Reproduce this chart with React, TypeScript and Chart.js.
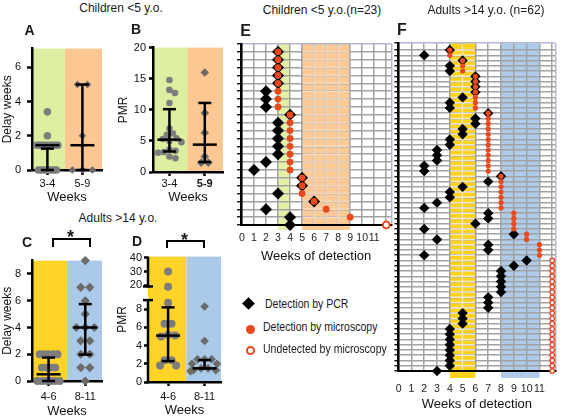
import React, { useEffect, useRef } from "react";
import { Chart, registerables } from "chart.js";

Chart.register(...registerables);

const FONT = "'Liberation Sans', Arial, Helvetica, sans-serif";
Chart.defaults.font.family = FONT;
Chart.defaults.color = "#111";

// ---------------- Data: panels A–D ----------------
const CHILD_GROUPS = ["3-4", "5-9"];
const ADULT_GROUPS = ["4-6", "8-11"];

const A_DELAY_34 = [3.4, 2.0, 1.45, 1.45, 1.45, 1.45, 1.45, 1.45, 1.45, 1.45, 0, 0, 0, 0, 0, 0, 0];
const A_DELAY_59 = [5, 5, 2, 0, 0, 0];
const A_MEDIAN = [1.45, 1.45];
const A_LOW = [0, 0];
const A_HIGH = [1.25, 5];
const A_YTICKS = [0, 2, 4, 6];

const B_PMR_34 = [14.8, 13.2, 12.7, 11.1, 7.0, 6.2, 6.0, 5.4, 5.3, 5.0, 4.8, 3.6, 3.4, 3.2, 3.1, 2.5, 2.2];
const B_PMR_59 = [16, 9.5, 6.3, 2.5, 1.5, 1.5];
const B_CENTER = [5.2, 4.4];
const B_LOW = [3.3, 1.6];
const B_HIGH = [10.1, 11.1];
const B_YTICKS = [0, 5, 10, 15, 20];

const C_DELAY_46 = [2, 2, 2, 2, 2, 1, 1, 1, 1, 0, 0, 0, 0, 0, 0];
const C_DELAY_811 = [9, 7, 7, 6, 5, 4, 4, 4, 3, 3, 2, 2, 1, 1, 0];
const C_MEDIAN = [0.5, 4];
const C_LOW = [0, 1.97];
const C_HIGH = [1.75, 5.75];
const C_YTICKS = [0, 2, 4, 6, 8];

const D_PMR_46 = [30, 19, 8.7, 6.4, 6.4, 5.2, 5.1, 5.0, 2.4, 2.4, 1.8, 1.8];
const D_PMR_811 = [8.3, 4.5, 2.5, 2.5, 2.5, 2.0, 2.0, 1.5, 1.5, 1.3, 1.3, 1.2];
const D_CENTER = [5.1, 1.5];
const D_LOW = [2.3, 1.5];
const D_HIGH = [8.2, 2.4];
const D_YTICKS = [0, 2, 4, 6, 8, 20, 30, 40];

// broken PMR axis of panel D (lower part linear up to 9, upper part compressed from 20)
const D_LOWER_TOP = 9.0;
const D_UPPER_BASE_VALUE = 20;
const D_UPPER_BASE_POS = 10.61;
const D_UPPER_SCALE = 0.153;
const D_AXIS_TOP = 13.78;
const dDisplay = (v: number) => (v <= 9.5 ? v : D_UPPER_BASE_POS + (v - D_UPPER_BASE_VALUE) * D_UPPER_SCALE);

// ---------------- Data: panels E, F ----------------
const WEEK_LABELS = ["0", "1", "2", "3", "4", "5", "6", "7", "8", "9", "10", "11", ""];
const UNDETECTED_WEEK = 12;
const E_GROUP_WEEKS = [[3, 4], [5, 9]];
const F_GROUP_WEEKS = [[4, 6], [8, 11]];

const E_PCR_WEEK = [3, 3, 3, 3, 3, 2, 2, 2, 4, 3, 3, 3, 3, 3, 2, 1, 5, 5, 3, 6, 2, 4, 4];
const E_MICRO_WEEK: (number | null)[] = [3, 3, 3, 3, 3, 3, 3, 3, 4, 4, 4, 4, 4, 4, 4, 4, 5, 5, 5, 6, 7, 9, null];

const F_PCR_WEEK = [
  4, 2, 5, 4, 4, 6, 6, 6, 6, 5, 4, 4,
  7, 6, 6, 5, 5, 4, 4, 3, 3, 3, 2, 2,
  8, 7, 5, 4, 4, 3, 2,
  7, 7, 6, 2,
  9, 3, 7, 7, 2,
  10, 9, 8, 8, 8, 8, 8, 7, 7, 7, 5, 5, 5,
  4, 4, 4, 4, 4, 4, 4, 4, 3,
];
const F_MICRO_WEEK: (number | null)[] = [
  4, 4, 5, 5, 5, 6, 6, 6, 6, 6, 6, 6,
  7, 7, 7, 7, 7, 7, 7, 7, 7, 7, 7, 7,
  8, 8, 8, 8, 8, 8, 8,
  9, 9, 9, 9,
  10, 10, 11, 11, 11,
  null, null, null, null, null, null, null, null, null, null, null, null, null,
  null, null, null, null, null, null, null, null, null,
];

const LEGEND_LABELS = ["Detection by PCR", "Detection by microscopy", "Undetected by microscopy"];

// ---------------- Colours ----------------
const RED = "#e84a1d";
const GRID = "#a2a2a2";
const FRAME = "#b3b7d6";
const DOT_GREY = "#7d7d7d";
const DIA_GREY = "#6a6a6a";

// ---------------- Helpers ----------------
function swarm(vals: number[], center: number, xPx: number, yPx: number, minDist: number, toDisp: (v: number) => number) {
  const step = 0.5;
  const idx = vals.map((_, i) => i).sort((a, b) => vals[b] - vals[a]);
  const placed: { ox: number; py: number; v: number; i: number }[] = [];
  for (const i of idx) {
    const py = toDisp(vals[i]) * yPx;
    let ox = 0;
    for (let k = 0; k < 600; k++) {
      const cand = k === 0 ? 0 : (k % 2 ? 1 : -1) * Math.ceil(k / 2) * step;
      if (placed.every((p) => Math.hypot(p.ox - cand, p.py - py) >= minDist)) {
        ox = cand;
        break;
      }
    }
    placed.push({ ox, py, v: vals[i], i });
  }
  const byVal = new Map<number, typeof placed>();
  placed.forEach((p) => {
    const arr = byVal.get(p.v) || [];
    arr.push(p);
    byVal.set(p.v, arr);
  });
  byVal.forEach((arr) => {
    if (arr.length > 1) {
      const m = arr.reduce((s, p) => s + p.ox, 0) / arr.length;
      arr.forEach((p) => (p.ox -= m));
    }
  });
  const out: { x: number; y: number }[] = new Array(vals.length);
  placed.forEach((p) => {
    out[p.i] = { x: center + p.ox / xPx, y: toDisp(p.v) };
  });
  return out;
}

function seg(ctx: CanvasRenderingContext2D, x0: number, y0: number, x1: number, y1: number) {
  ctx.beginPath();
  ctx.moveTo(x0, y0);
  ctx.lineTo(x1, y1);
  ctx.stroke();
}

const bandsPlugin = {
  id: "bands",
  beforeDraw(chart: any, _a: any, o: any) {
    const { ctx, chartArea: a, scales } = chart;
    const x = scales.x;
    ctx.save();
    for (const b of o.list || []) {
      const x0 = x.getPixelForValue(b.from);
      const x1 = x.getPixelForValue(b.to);
      ctx.fillStyle = b.color;
      ctx.fillRect(x0, a.top, x1 - x0, a.bottom - a.top + (o.extend || 0));
    }
    ctx.restore();
  },
  beforeDatasetsDraw(chart: any, _a: any, o: any) {
    const { ctx, chartArea: a, scales } = chart;
    const x = scales.x;
    const y = scales.y;
    ctx.save();
    for (const b of o.list || []) {
      if (!b.lineColor) continue;
      const x0 = x.getPixelForValue(b.from);
      const x1 = x.getPixelForValue(b.to);
      ctx.strokeStyle = b.lineColor;
      ctx.lineWidth = 1.5;
      ctx.beginPath();
      for (const t of y.ticks) {
        const py = y.getPixelForValue(t.value);
        if (py > a.top + 1 && py < a.bottom - 1) {
          ctx.moveTo(x0 + 0.8, py);
          ctx.lineTo(x1 - 0.8, py);
        }
      }
      for (const t of x.ticks) {
        if (t.value > b.from + 1e-6 && t.value < b.to - 1e-6) {
          const px = x.getPixelForValue(t.value);
          ctx.moveTo(px, a.top + 1);
          ctx.lineTo(px, a.bottom - 1);
        }
      }
      ctx.stroke();
    }
    ctx.restore();
  },
};

const summaryPlugin = {
  id: "summary",
  afterDatasetsDraw(chart: any, _a: any, o: any) {
    if (!o.center) return;
    const { ctx, scales } = chart;
    const x = scales.x;
    const y = scales.y;
    const t = o.toDisplay || ((v: number) => v);
    ctx.save();
    ctx.strokeStyle = "#000";
    ctx.lineWidth = 2.5;
    o.center.forEach((c: number, i: number) => {
      const px = x.getPixelForValue(i);
      const pm = y.getPixelForValue(t(c));
      const pl = y.getPixelForValue(t(o.low[i]));
      const ph = y.getPixelForValue(t(o.high[i]));
      seg(ctx, px - o.halfWide, pm, px + o.halfWide, pm);
      seg(ctx, px, pl, px, ph);
      seg(ctx, px - o.halfCap, pl, px + o.halfCap, pl);
      seg(ctx, px - o.halfCap, ph, px + o.halfCap, ph);
    });
    ctx.restore();
  },
};

const brokenAxisPlugin = {
  id: "brokenAxis",
  afterDraw(chart: any, _a: any, o: any) {
    if (!o.segments) return;
    const { ctx, chartArea: a, scales } = chart;
    const y = scales.y;
    ctx.save();
    ctx.strokeStyle = "#000";
    ctx.lineWidth = 2.5;
    for (const [lo, hi] of o.segments) {
      seg(ctx, a.left, y.getPixelForValue(lo) + 1.2, a.left, y.getPixelForValue(hi));
    }
    for (const v of o.caps) {
      const py = y.getPixelForValue(v);
      seg(ctx, a.left - 5, py, a.left + 5, py);
    }
    ctx.restore();
  },
};

type Box = { left: number; top: number; width: number; height: number };
type Group = { values: number[]; shape: "circle" | "rectRot"; radius: number; color: string; spread: number };
type SummarySpec = {
  box: Box;
  yAxisWidth: number;
  xAxisHeight: number;
  padTop: number;
  padRight: number;
  xMin: number;
  xMax: number;
  yMax: number;
  yTicks: number[];
  toDisplay: (v: number) => number;
  categories: string[];
  boldIndex: number;
  groups: Group[];
  center: number[];
  low: number[];
  high: number[];
  bandColors: string[];
  yTitle: string;
  yTitlePad: number;
  yTickPad: number;
  yTickLen: number;
  xTickLen: number;
  xTickPad: number;
  xTitlePad: number;
  broken?: { segments: number[][]; caps: number[] };
};

const identity = (v: number) => v;

function summaryConfig(s: SummarySpec): any {
  const plotW = s.box.width - s.yAxisWidth - s.padRight;
  const plotH = s.box.height - s.padTop - s.xAxisHeight;
  const xPx = plotW / (s.xMax - s.xMin);
  const yPx = plotH / s.yMax;
  return {
    type: "scatter",
    data: {
      datasets: s.groups.map((g, i) => ({
        data: swarm(g.values, i, xPx, yPx, g.spread, s.toDisplay),
        pointStyle: g.shape,
        pointRadius: g.radius,
        pointHoverRadius: g.radius,
        backgroundColor: g.color,
        borderColor: g.color,
        pointBorderWidth: 0,
        clip: false,
      })),
    },
    options: {
      responsive: false,
      animation: false,
      events: [],
      layout: { padding: { left: 0, top: s.padTop, right: s.padRight, bottom: 0 } },
      plugins: {
        legend: { display: false },
        tooltip: { enabled: false },
        bands: {
          list: [
            { from: s.xMin, to: 0.5, color: s.bandColors[0] },
            { from: 0.5, to: s.xMax, color: s.bandColors[1] },
          ],
          extend: 0,
        },
        summary: { center: s.center, low: s.low, high: s.high, toDisplay: s.toDisplay, halfWide: 12, halfCap: 6.5 },
        brokenAxis: s.broken ? s.broken : {},
      },
      scales: {
        x: {
          type: "linear",
          min: s.xMin,
          max: s.xMax,
          afterBuildTicks: (sc: any) => {
            sc.ticks = s.categories.map((_, i) => ({ value: i }));
          },
          afterFit: (sc: any) => {
            sc.height = s.xAxisHeight;
          },
          ticks: {
            autoSkip: false,
            maxRotation: 0,
            minRotation: 0,
            padding: s.xTickPad,
            color: "#111",
            font: (c: any) => ({ size: 11, family: FONT, weight: c.index === s.boldIndex ? "bold" : "normal" }),
            callback: (_v: any, i: number) => s.categories[i],
          },
          grid: {
            display: true,
            drawOnChartArea: false,
            drawTicks: true,
            tickLength: s.xTickLen,
            tickColor: "#000",
            tickWidth: 2.5,
          },
          border: { display: true, color: "#000", width: 2.5 },
          title: {
            display: true,
            text: "Weeks",
            color: "#111",
            font: { size: 13, family: FONT },
            padding: { top: 0, bottom: s.xTitlePad },
          },
        },
        y: {
          type: "linear",
          min: 0,
          max: s.yMax,
          afterBuildTicks: (sc: any) => {
            sc.ticks = s.yTicks.map((v) => ({ value: s.toDisplay(v) }));
          },
          afterFit: (sc: any) => {
            sc.width = s.yAxisWidth;
          },
          ticks: {
            padding: s.yTickPad,
            color: "#111",
            font: { size: 11, family: FONT },
            callback: (_v: any, i: number) => String(s.yTicks[i]),
          },
          grid: {
            display: true,
            drawOnChartArea: false,
            drawTicks: true,
            tickLength: s.yTickLen,
            tickColor: "#000",
            tickWidth: 2.5,
          },
          border: { display: !s.broken, color: "#000", width: 2.5 },
          title: {
            display: true,
            text: s.yTitle,
            color: "#111",
            font: { size: 12, family: FONT },
            padding: { top: s.yTitlePad, bottom: 0 },
          },
        },
      },
    },
    plugins: [bandsPlugin, summaryPlugin, brokenAxisPlugin],
  };
}

type DetectionSpec = {
  box: Box;
  yAxisWidth: number;
  xAxisHeight: number;
  padTop: number;
  padRight: number;
  xMin: number;
  xMax: number;
  yMax: number;
  pcr: number[];
  micro: (number | null)[];
  bands: { from: number; to: number; color: string; lineColor?: string }[];
  bandExtend: number;
  diamondR: number;
  redR: number;
  openR: number;
  openW: number;
  xTickPad: number;
  xTitlePad: number;
  tickFont: number;
};

function detectionConfig(s: DetectionSpec): any {
  const n = s.pcr.length;
  const rowY = (k: number) => n - 1 - k;
  const pcrPts = s.pcr.map((w, k) => ({ x: w, y: rowY(k) }));
  const redPts = s.micro.flatMap((w, k) => (w === null ? [] : [{ x: w, y: rowY(k) }]));
  const openPts = s.micro.flatMap((w, k) => (w === null ? [{ x: UNDETECTED_WEEK, y: rowY(k) }] : []));
  const yTicks: number[] = [];
  for (let v = 0; v < n; v++) yTicks.push(v);
  yTicks.push(s.yMax);
  const xTicks = WEEK_LABELS.map((_, i) => i).concat([s.xMax]);
  return {
    type: "scatter",
    data: {
      datasets: [
        {
          data: redPts,
          pointStyle: "circle",
          pointRadius: s.redR,
          pointHoverRadius: s.redR,
          backgroundColor: RED,
          borderColor: RED,
          pointBorderWidth: 0,
          clip: false,
        },
        {
          data: openPts,
          pointStyle: "circle",
          pointRadius: s.openR,
          pointHoverRadius: s.openR,
          backgroundColor: "#ffffff",
          borderColor: RED,
          pointBorderWidth: s.openW,
          clip: false,
        },
        {
          data: pcrPts,
          pointStyle: "rectRot",
          pointRadius: s.diamondR,
          pointHoverRadius: s.diamondR,
          backgroundColor: "#000",
          borderColor: "#000",
          pointBorderWidth: 0,
          clip: false,
        },
      ],
    },
    options: {
      responsive: false,
      animation: false,
      events: [],
      layout: { padding: { left: 0, top: s.padTop, right: s.padRight, bottom: 0 } },
      plugins: {
        legend: { display: false },
        tooltip: { enabled: false },
        bands: { list: s.bands, extend: s.bandExtend },
        summary: {},
        brokenAxis: {},
      },
      scales: {
        x: {
          type: "linear",
          min: s.xMin,
          max: s.xMax,
          afterBuildTicks: (sc: any) => {
            sc.ticks = xTicks.map((v) => ({ value: v }));
          },
          afterFit: (sc: any) => {
            sc.height = s.xAxisHeight;
          },
          ticks: {
            autoSkip: false,
            maxRotation: 0,
            minRotation: 0,
            padding: s.xTickPad,
            color: "#222",
            font: { size: s.tickFont, family: FONT },
            callback: (_v: any, i: number) => (i < WEEK_LABELS.length ? WEEK_LABELS[i] : ""),
          },
          grid: {
            display: true,
            drawOnChartArea: true,
            drawTicks: false,
            color: (c: any) => (c.tick && c.tick.value > 12.05 ? FRAME : GRID),
            lineWidth: 1.5,
          },
          border: { display: true, color: "#000", width: 2 },
          title: {
            display: true,
            text: "Weeks of detection",
            color: "#111",
            font: { size: 13, family: FONT },
            padding: { top: 0, bottom: s.xTitlePad },
          },
        },
        y: {
          type: "linear",
          min: 0,
          max: s.yMax,
          afterBuildTicks: (sc: any) => {
            sc.ticks = yTicks.map((v) => ({ value: v }));
          },
          afterFit: (sc: any) => {
            sc.width = s.yAxisWidth;
          },
          ticks: { display: false },
          grid: {
            display: true,
            drawOnChartArea: true,
            drawTicks: true,
            tickLength: 4,
            tickColor: "#000",
            tickWidth: 1.3,
            color: (c: any) => (c.tick && c.tick.value > s.yMax - 0.5 ? FRAME : GRID),
            lineWidth: 1.5,
          },
          border: { display: true, color: "#000", width: 2.5 },
        },
      },
    },
    plugins: [bandsPlugin],
  };
}

// ---------------- Panel specs ----------------
const PANEL_A: SummarySpec = {
  box: { left: 0, top: 36, width: 108, height: 170 },
  yAxisWidth: 32, xAxisHeight: 36, padTop: 6, padRight: 6,
  xMin: -0.44, xMax: 1.56, yMax: 7.1, yTicks: A_YTICKS, toDisplay: identity,
  categories: CHILD_GROUPS, boldIndex: -1,
  groups: [
    { values: A_DELAY_34, shape: "circle", radius: 3.8, color: DOT_GREY, spread: 2.8 },
    { values: A_DELAY_59, shape: "rectRot", radius: 3.8, color: DIA_GREY, spread: 10 },
  ],
  center: A_MEDIAN, low: A_LOW, high: A_HIGH,
  bandColors: ["#dcee9f", "#fcc792"],
  yTitle: "Delay weeks", yTitlePad: 0.6, yTickPad: 6, yTickLen: 5,
  xTickLen: 5, xTickPad: 2.4, xTitlePad: 0.7,
};

const PANEL_B: SummarySpec = {
  box: { left: 116, top: 38, width: 112, height: 168 },
  yAxisWidth: 37, xAxisHeight: 34, padTop: 5, padRight: 5,
  xMin: -0.465, xMax: 1.515, yMax: 20, yTicks: B_YTICKS, toDisplay: identity,
  categories: CHILD_GROUPS, boldIndex: 1,
  groups: [
    { values: B_PMR_34, shape: "circle", radius: 3.3, color: DOT_GREY, spread: 6 },
    { values: B_PMR_59, shape: "rectRot", radius: 4.3, color: DIA_GREY, spread: 7 },
  ],
  center: B_CENTER, low: B_LOW, high: B_HIGH,
  bandColors: ["#dcee9f", "#fcc792"],
  yTitle: "PMR", yTitlePad: 0.3, yTickPad: 3, yTickLen: 4,
  xTickLen: 4, xTickPad: 1.4, xTitlePad: 0.7,
};

const PANEL_C: SummarySpec = {
  box: { left: 0, top: 248, width: 108, height: 171 },
  yAxisWidth: 32, xAxisHeight: 38, padTop: 5, padRight: 6,
  xMin: -0.452, xMax: 1.456, yMax: 9, yTicks: C_YTICKS, toDisplay: identity,
  categories: ADULT_GROUPS, boldIndex: -1,
  groups: [
    { values: C_DELAY_46, shape: "circle", radius: 3.9, color: DOT_GREY, spread: 4.2 },
    { values: C_DELAY_811, shape: "rectRot", radius: 4.6, color: DIA_GREY, spread: 9 },
  ],
  center: C_MEDIAN, low: C_LOW, high: C_HIGH,
  bandColors: ["#ffd328", "#abc9e8"],
  yTitle: "Delay weeks", yTitlePad: 0.6, yTickPad: 6, yTickLen: 5,
  xTickLen: 5, xTickPad: 4.1, xTitlePad: 0.2,
};

const PANEL_D: SummarySpec = {
  box: { left: 112, top: 248, width: 114, height: 171 },
  yAxisWidth: 36, xAxisHeight: 37, padTop: 6, padRight: 5,
  xMin: -0.55, xMax: 1.45, yMax: D_AXIS_TOP, yTicks: D_YTICKS, toDisplay: dDisplay,
  categories: ADULT_GROUPS, boldIndex: -1,
  groups: [
    { values: D_PMR_46, shape: "circle", radius: 4, color: DOT_GREY, spread: 7 },
    { values: D_PMR_811, shape: "rectRot", radius: 4.3, color: DIA_GREY, spread: 7 },
  ],
  center: D_CENTER, low: D_LOW, high: D_HIGH,
  bandColors: ["#ffd328", "#abc9e8"],
  yTitle: "PMR", yTitlePad: 3.8, yTickPad: 2, yTickLen: 4,
  xTickLen: 4, xTickPad: 4.1, xTitlePad: 0.5,
  broken: { segments: [[0, D_LOWER_TOP], [10.5, D_AXIS_TOP]], caps: [D_LOWER_TOP, 10.5] },
};

const PANEL_E: DetectionSpec = {
  box: { left: 228, top: 38, width: 170, height: 228 },
  yAxisWidth: 13, xAxisHeight: 41, padTop: 4, padRight: 6,
  xMin: -0.08, xMax: 12.42, yMax: 23,
  pcr: E_PCR_WEEK, micro: E_MICRO_WEEK,
  bands: [
    { from: E_GROUP_WEEKS[0][0], to: E_GROUP_WEEKS[0][1], color: "#e3f0a6" },
    { from: E_GROUP_WEEKS[1][0], to: E_GROUP_WEEKS[1][1], color: "#fdc995", lineColor: "rgba(253,226,200,0.85)" },
  ],
  bandExtend: 5,
  diamondR: 6, redR: 3.4, openR: 3.4, openW: 2,
  xTickPad: 6.7, xTitlePad: 1.5, tickFont: 10.5,
};

const PANEL_F: DetectionSpec = {
  box: { left: 384, top: 38, width: 183, height: 378 },
  yAxisWidth: 13, xAxisHeight: 45, padTop: 4, padRight: 2,
  xMin: -0.02, xMax: 12.24, yMax: 62.3,
  pcr: F_PCR_WEEK, micro: F_MICRO_WEEK,
  bands: [
    { from: F_GROUP_WEEKS[0][0], to: F_GROUP_WEEKS[0][1], color: "#ffd21c", lineColor: "rgba(246,240,214,0.9)" },
    { from: F_GROUP_WEEKS[1][0], to: F_GROUP_WEEKS[1][1], color: "#aecbea" },
  ],
  bandExtend: 7,
  diamondR: 5.2, redR: 2.6, openR: 2.3, openW: 1.4,
  xTickPad: 11.7, xTitlePad: 4.2, tickFont: 10.5,
};

// ---------------- Components ----------------
function ChartBox({ box, make }: { box: Box; make: () => any }) {
  const ref = useRef<HTMLCanvasElement>(null);
  useEffect(() => {
    const chart = new Chart(ref.current as HTMLCanvasElement, make());
    return () => chart.destroy();
  }, []);
  return (
    <div style={{ position: "absolute", left: box.left, top: box.top, width: box.width, height: box.height }}>
      <canvas ref={ref} width={box.width} height={box.height} style={{ width: box.width, height: box.height, display: "block" }} />
    </div>
  );
}

function Txt(props: {
  x: number;
  y: number;
  size?: number;
  bold?: boolean;
  start?: boolean;
  squeeze?: number;
  children: React.ReactNode;
}) {
  const { x, y, size = 12, bold = false, start = false, squeeze = 1, children } = props;
  return (
    <div
      style={{
        position: "absolute",
        left: x,
        top: y,
        transform: `translate(${start ? "0" : "-50%"}, -50%) scaleX(${squeeze})`,
        transformOrigin: start ? "left center" : "center center",
        fontSize: size,
        fontWeight: bold ? 700 : 400,
        fontFamily: FONT,
        whiteSpace: "nowrap",
        lineHeight: 1,
        color: "#1a1a1a",
      }}
    >
      {children}
    </div>
  );
}

function Bracket({ left, top, width, height }: { left: number; top: number; width: number; height: number }) {
  return (
    <div
      style={{
        position: "absolute",
        left,
        top,
        width,
        height,
        boxSizing: "border-box",
        borderTop: "2.5px solid #000",
        borderLeft: "2.5px solid #000",
        borderRight: "2.5px solid #000",
      }}
    />
  );
}

export default function App() {
  return (
    <div
      style={{
        position: "fixed",
        left: 0,
        top: 0,
        width: 567,
        height: 420,
        background: "#fff",
        overflow: "hidden",
        fontFamily: FONT,
      }}
    >
      <ChartBox box={PANEL_A.box} make={() => summaryConfig(PANEL_A)} />
      <ChartBox box={PANEL_B.box} make={() => summaryConfig(PANEL_B)} />
      <ChartBox box={PANEL_C.box} make={() => summaryConfig(PANEL_C)} />
      <ChartBox box={PANEL_D.box} make={() => summaryConfig(PANEL_D)} />
      <ChartBox box={PANEL_E.box} make={() => detectionConfig(PANEL_E)} />
      <ChartBox box={PANEL_F.box} make={() => detectionConfig(PANEL_F)} />

      <Txt x={121} y={8}>Children &lt;5 y.o.</Txt>
      <Txt x={118} y={218}>Adults &gt;14 y.o.</Txt>
      <Txt x={322} y={10}>Children &lt;5 y.o.(n=23)</Txt>
      <Txt x={486} y={10}>Adults &gt;14 y.o. (n=62)</Txt>

      <Txt x={29.5} y={30} size={14} bold>A</Txt>
      <Txt x={136} y={28.5} size={14} bold>B</Txt>
      <Txt x={27} y={241.7} size={14} bold>C</Txt>
      <Txt x={137} y={241} size={14} bold>D</Txt>
      <Txt x={245.5} y={31} size={16} bold>E</Txt>
      <Txt x={402} y={29.5} size={16} bold>F</Txt>

      <Bracket left={51.5} top={238} width={39.5} height={9} />
      <Txt x={70.5} y={237} size={18} bold>*</Txt>
      <Bracket left={166} top={240} width={38.5} height={7.5} />
      <Txt x={184.5} y={239.5} size={18} bold>*</Txt>

      <div style={{ position: "absolute", left: 243.8, top: 298.8, width: 9, height: 9, background: "#000", transform: "rotate(45deg)" }} />
      <div style={{ position: "absolute", left: 246.2, top: 324.5, width: 9, height: 9, background: RED, borderRadius: "50%" }} />
      <div
        style={{
          position: "absolute",
          left: 246.2,
          top: 346.2,
          width: 9,
          height: 9,
          boxSizing: "border-box",
          border: `2.5px solid ${RED}`,
          background: "#fff",
          borderRadius: "50%",
        }}
      />
      <Txt x={265} y={303.5} size={12.5} start squeeze={0.84}>{LEGEND_LABELS[0]}</Txt>
      <Txt x={263} y={326.5} size={12.5} start squeeze={0.84}>{LEGEND_LABELS[1]}</Txt>
      <Txt x={263} y={349} size={12.5} start squeeze={0.84}>{LEGEND_LABELS[2]}</Txt>
    </div>
  );
}
